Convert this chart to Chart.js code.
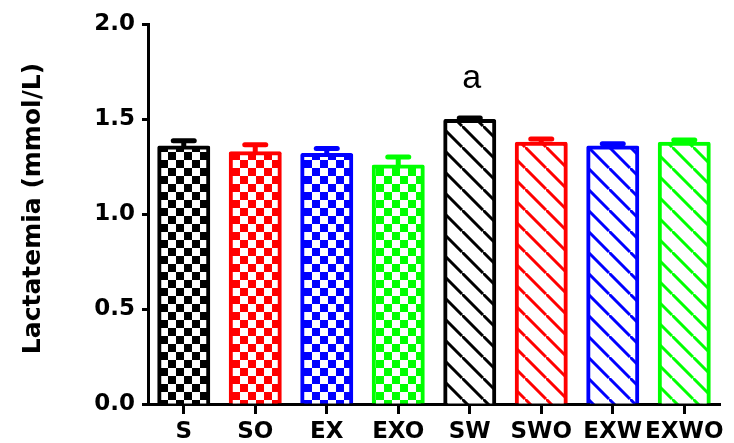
<!DOCTYPE html>
<html>
<head>
<meta charset="utf-8">
<script src="https://cdn.jsdelivr.net/npm/chart.js@4"></script>
<style>
  html, body { margin: 0; padding: 0; background: #fff; }
  canvas { display: block; }
</style>
</head>
<body>
<canvas id="chart" width="734" height="443"></canvas>
<script>
// Group names, mean lactatemia (mmol/L) and SEM per group
const categories = ['S', 'SO', 'EX', 'EXO', 'SW', 'SWO', 'EXW', 'EXWO'];
const lactatemia = [1.35, 1.32, 1.31, 1.25, 1.49, 1.37, 1.35, 1.37];
const sem = [0.035, 0.045, 0.035, 0.05, 0.015, 0.025, 0.02, 0.02];
const significance = ['', '', '', '', 'a', '', '', ''];
const yTicks = [0, 0.5, 1.0, 1.5, 2.0];
const yTitle = 'Lactatemia (mmol/L)';

// Styling per group
const barColors = ['#000000', '#ff0000', '#0000ff', '#00ff00', '#000000', '#ff0000', '#0000ff', '#00ff00'];
const barFillKinds = ['checker', 'checker', 'checker', 'checker', 'stripe', 'stripe', 'stripe', 'stripe'];

const AXIS_FONT = '"DejaVu Sans", Verdana, sans-serif';
const NOTE_FONT = '"Liberation Sans", Arial, Helvetica, sans-serif';
const canvas = document.getElementById('chart');
const mainCtx = canvas.getContext('2d');

function checkerPattern(color, cell) {
  const t = document.createElement('canvas');
  t.width = t.height = cell * 2;
  const g = t.getContext('2d');
  g.fillStyle = '#ffffff';
  g.fillRect(0, 0, cell * 2, cell * 2);
  g.fillStyle = color;
  g.fillRect(0, 0, cell, cell);
  g.fillRect(cell, cell, cell, cell);
  return mainCtx.createPattern(t, 'repeat');
}

function stripePattern(color, size, width) {
  const t = document.createElement('canvas');
  t.width = t.height = size;
  const g = t.getContext('2d');
  g.fillStyle = '#ffffff';
  g.fillRect(0, 0, size, size);
  g.strokeStyle = color;
  g.lineWidth = width;
  g.beginPath();
  // "\" diagonals, including the pieces that wrap round the tile corners
  g.moveTo(0, 0); g.lineTo(size, size);
  g.moveTo(-size, 0); g.lineTo(0, size);
  g.moveTo(0, -size); g.lineTo(size, 0);
  g.stroke();
  return mainCtx.createPattern(t, 'repeat');
}

const barFills = barColors.map((c, i) =>
  barFillKinds[i] === 'checker' ? checkerPattern(c, 8) : stripePattern(c, 21, 3));

// Upward SEM whiskers with a heavy cap, plus the significance letter
const errorBars = {
  id: 'errorBars',
  afterDatasetsDraw(chart) {
    const ctx = chart.ctx;
    const y = chart.scales.y;
    const meta = chart.getDatasetMeta(0);
    meta.data.forEach((bar, i) => {
      const yMean = y.getPixelForValue(lactatemia[i]);
      const yTop = y.getPixelForValue(lactatemia[i] + sem[i]);
      ctx.save();
      ctx.fillStyle = barColors[i];
      ctx.fillRect(bar.x - 2.5, yTop, 5, yMean - yTop);
      ctx.strokeStyle = barColors[i];
      ctx.lineWidth = 5;
      ctx.lineCap = 'round';
      ctx.beginPath();
      ctx.moveTo(bar.x - 10.5, yTop);
      ctx.lineTo(bar.x + 10.5, yTop);
      ctx.stroke();
      if (significance[i]) {
        ctx.fillStyle = '#000';
        ctx.font = '34px ' + NOTE_FONT;
        ctx.textAlign = 'center';
        ctx.textBaseline = 'alphabetic';
        ctx.fillText(significance[i], bar.x + 2, yTop - 30);
      }
      ctx.restore();
    });
  }
};

// Rotated y-axis title, centred a little above the middle of the axis
const yAxisTitle = {
  id: 'yAxisTitle',
  afterDraw(chart) {
    const ctx = chart.ctx;
    const area = chart.chartArea;
    ctx.save();
    ctx.translate(33, (area.top + area.bottom) / 2 - 5.5);
    ctx.rotate(-Math.PI / 2);
    ctx.fillStyle = '#000';
    ctx.font = 'bold 25px ' + AXIS_FONT;
    ctx.textAlign = 'center';
    ctx.textBaseline = 'middle';
    ctx.fillText(yTitle, 0, 0);
    ctx.restore();
  }
};

new Chart(canvas, {
  type: 'bar',
  data: {
    labels: categories,
    datasets: [{
      data: lactatemia,
      backgroundColor: barFills,
      borderColor: barColors,
      borderWidth: 4,
      borderRadius: 2,
      inflateAmount: 2,
      barThickness: 49
    }]
  },
  options: {
    responsive: false,
    devicePixelRatio: 1,
    animation: false,
    layout: { padding: { top: 24, right: 14, bottom: 0, left: 0 } },
    plugins: {
      legend: { display: false },
      tooltip: { enabled: false }
    },
    scales: {
      x: {
        grid: {
          display: true,
          drawOnChartArea: false,
          offset: false,
          drawTicks: true,
          tickLength: 10,
          tickWidth: 3,
          tickColor: '#000'
        },
        border: { display: true, width: 3, color: '#000' },
        ticks: {
          color: '#000',
          padding: 4,
          maxRotation: 0,
          autoSkip: false,
          font: { family: AXIS_FONT, size: 23, weight: 'bold' }
        },
        afterFit(scale) { scale.height = 39; }
      },
      y: {
        min: 0,
        max: 2,
        afterBuildTicks(scale) { scale.ticks = yTicks.map(v => ({ value: v })); },
        grid: {
          display: true,
          drawOnChartArea: false,
          drawTicks: true,
          tickLength: 6,
          tickWidth: 3,
          tickColor: '#000'
        },
        border: { display: true, width: 3, color: '#000' },
        ticks: {
          color: '#000',
          padding: 7,
          font: { family: AXIS_FONT, size: 23, weight: 'bold' },
          callback: v => Number(v).toFixed(1)
        },
        afterFit(scale) { scale.width = 148; }
      }
    }
  },
  plugins: [errorBars, yAxisTitle]
});
</script>
</body>
</html>
